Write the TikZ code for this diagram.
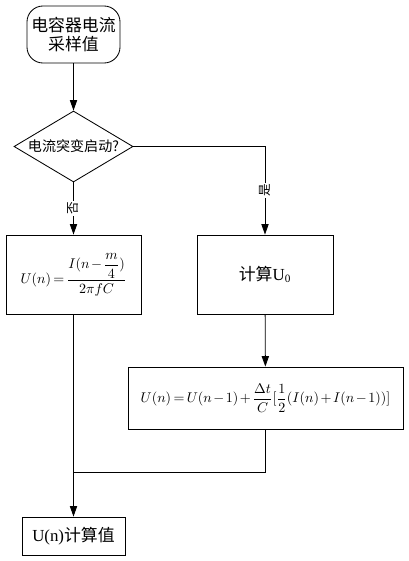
\documentclass[tikz,border=0pt]{standalone}
\usepackage{fontspec}
\usepackage{amsmath}
\setmainfont{Liberation Serif}
\newfontfamily\cjk{Noto Sans CJK SC}
\usetikzlibrary{shapes.geometric,arrows.meta}

\begin{document}
\begin{tikzpicture}[x=0.025cm, y=-0.025cm,
    every node/.style={font=\normalsize},
    box/.style={draw, semithick, inner sep=0pt, align=center},
    arrow/.style={draw, semithick, -{Triangle[length=2.6mm,width=1.8mm]}},
    link/.style={draw, semithick},
    tight/.style={execute at begin node={\medmuskip=2mu\thickmuskip=3mu}},
    branch/.style={font=\small\cjk, rotate=90, fill=white, inner sep=1pt}]
  % page size as the sketch (409 x 561 px)
  \useasboundingbox (0,0) rectangle (409,561);

  % ---- nodes ----
  \node[box, rounded corners=0.4cm, minimum width=2.325cm, minimum height=1.425cm,
        font=\large\cjk] (start) at (73.5,34.5) {电容器电流\\采样值};
  \node[box, diamond, aspect=1.7, minimum width=2.975cm, minimum height=1.775cm,
        font=\cjk] (judge) at (73.5,146.5) {电流突变启动?};
  \node[box, tight, minimum width=3.375cm, minimum height=1.975cm] (calcA) at (73.5,274.5)
        {$U(n)=\dfrac{I(n-\dfrac{m}{4})}{2\pi fC}$};
  \node[box, minimum width=3.4cm, minimum height=1.975cm, font=\large]
        (calcU) at (265,274.5) {{\cjk 计算}U\textsubscript{0}};
  \node[box, tight, minimum width=6.875cm, minimum height=1.55cm] (integ) at (265.5,398)
        {$U(n)=U(n-1)+\dfrac{\Delta t}{C}[\dfrac{1}{2}(I(n)+I(n-1))]$};
  \node[box, minimum width=2.575cm, minimum height=0.95cm, font=\large]
        (result) at (73.5,536) {U(n){\cjk 计算值}};
  \coordinate (joinR) at (265.5,472);
  \coordinate (joinL) at (73.5,472);

  % ---- connectors ----
  \draw[arrow] (start) -- (judge);
  \draw[arrow] (judge.south) -- node[branch] {否} (calcA.north);
  \draw[arrow] (judge.east) -| node[branch, pos=0.75] {是} (calcU.north);
  \draw[arrow] (calcU) -- (integ);
  \draw[link] (integ.south) -- (joinR) -- (joinL);
  \draw[arrow] (calcA.south) -- (result.north);
\end{tikzpicture}
\end{document}
